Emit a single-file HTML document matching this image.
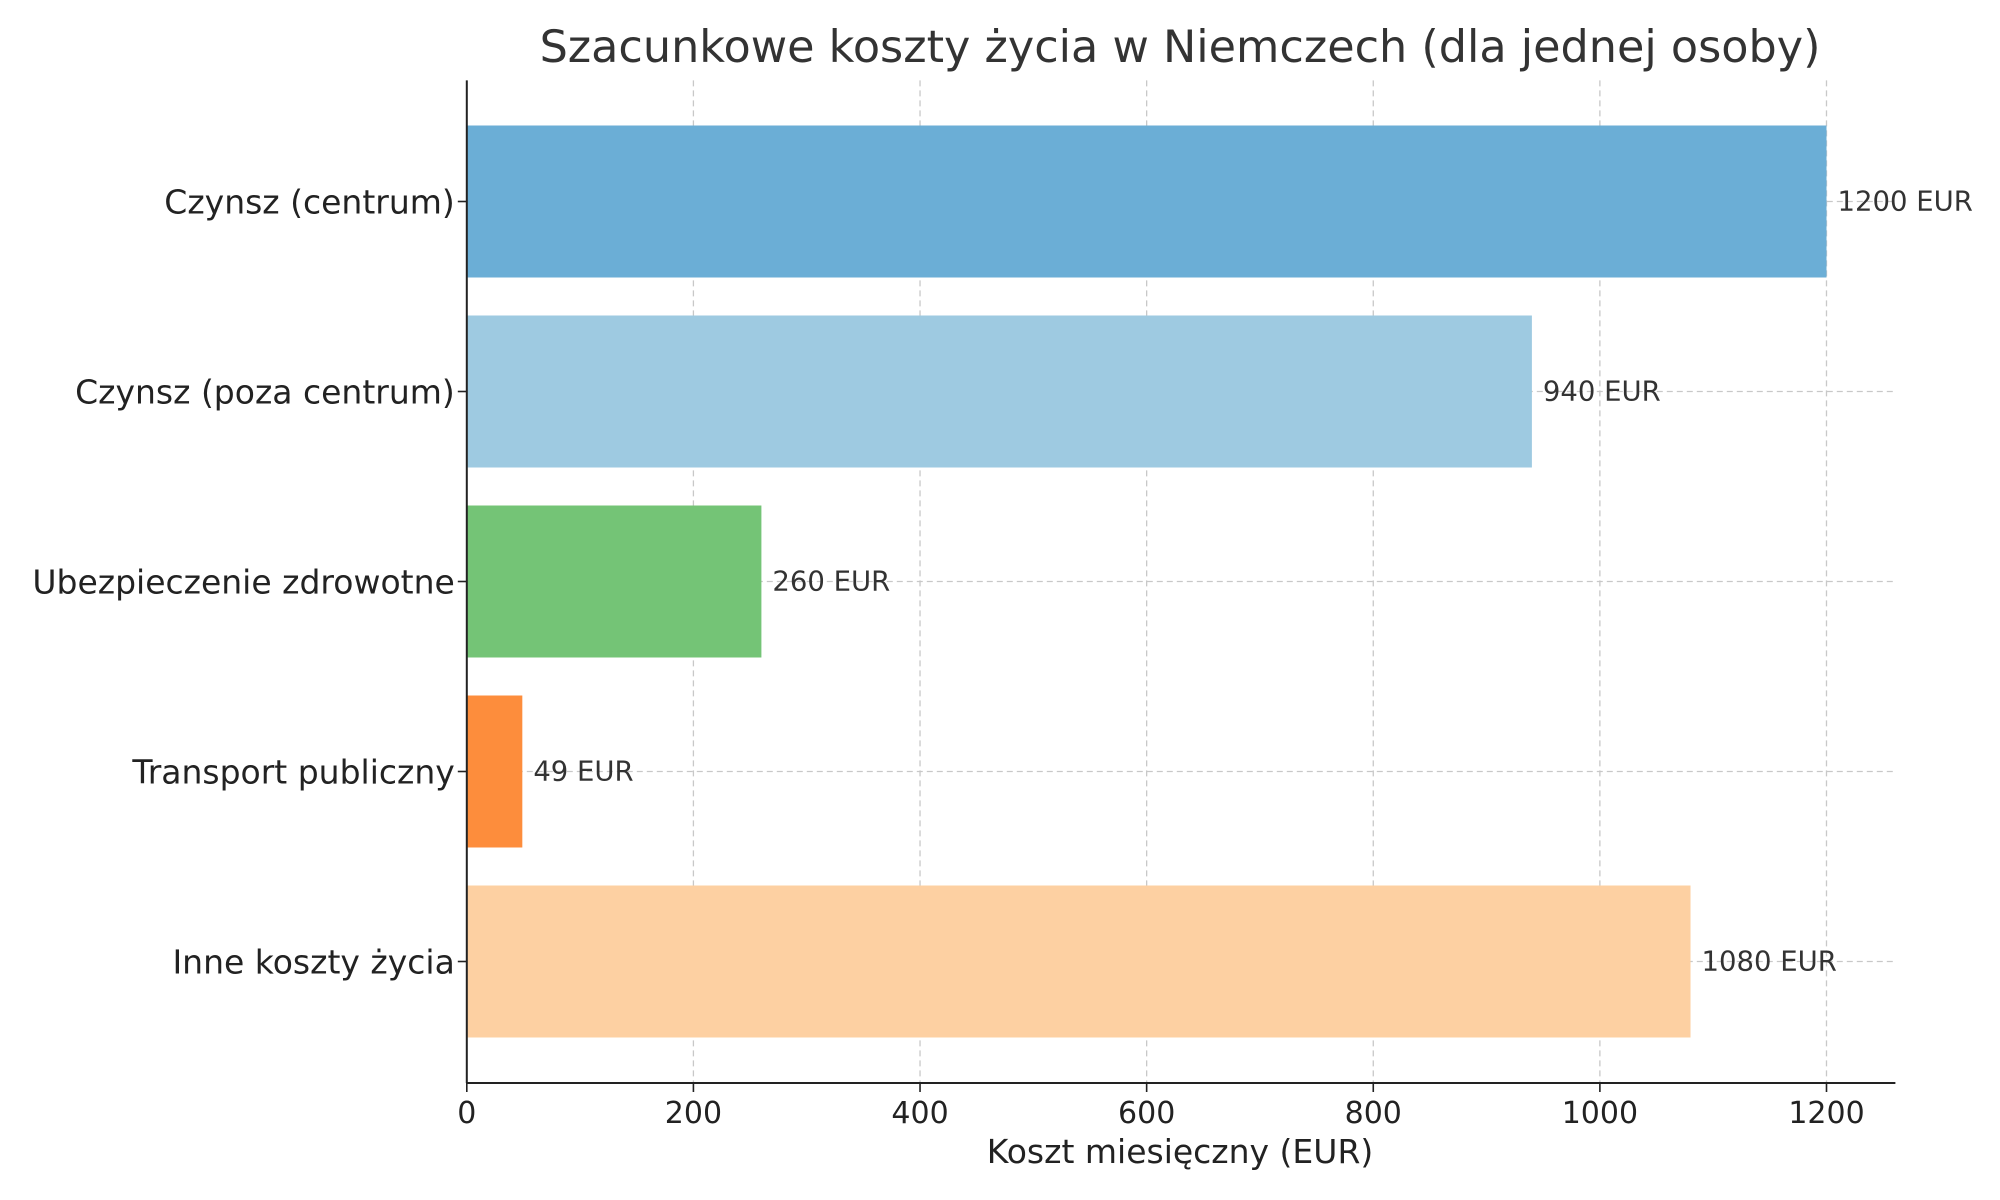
<!DOCTYPE html>
<html><head><meta charset="utf-8"><style>
html,body{margin:0;padding:0;background:#fff;}
svg{display:block;font-family:"DejaVu Sans","Liberation Sans",sans-serif;}
</style></head><body>
<svg id="chart" width="2000" height="1200" viewBox="0 0 2000 1200">
<text x="1180" y="62" text-anchor="middle" font-size="44.5" fill="#333">Szacunkowe koszty życia w Niemczech (dla jednej osoby)</text>
<g id="grid"></g><g id="bars"></g><g id="axes"></g>
<text x="1180" y="1163" text-anchor="middle" font-size="33" fill="#222">Koszt miesięczny (EUR)</text>
</svg>
<script>
const categories = ["Czynsz (centrum)","Czynsz (poza centrum)","Ubezpieczenie zdrowotne","Transport publiczny","Inne koszty życia"];
const values = [1200, 940, 260, 49, 1080];
const valueLabels = ["1200 EUR","940 EUR","260 EUR","49 EUR","1080 EUR"];
const xTicks = [0,200,400,600,800,1000,1200];
const colors = ["#6baed6","#9ecae1","#74c476","#fd8d3c","#fdd0a2"];

const L=466.8, R=1895.4, T=80.4, B=1083;
const x = v => L + v*(1826.5-L)/1200;
const y = i => 201.5 + 190*i;
const barH = 152;
const NS="http://www.w3.org/2000/svg";
function mk(tag, parent, attrs){const e=document.createElementNS(NS,tag);for(const k in attrs)e.setAttribute(k,attrs[k]);parent.appendChild(e);return e;}
const grid=document.getElementById('grid'), bars=document.getElementById('bars'), axes=document.getElementById('axes');
xTicks.forEach(t=>{
  const g=mk('line',grid,{x1:x(t),x2:x(t),y1:T,y2:B,stroke:'#c8c8c8','stroke-width':1.3,'stroke-dasharray':'6,4'});
  
  
  mk('line',axes,{x1:x(t),x2:x(t),y1:B,y2:B+9,stroke:'#222','stroke-width':1.6});
  const tl=mk('text',axes,{x:x(t),y:B+40,'text-anchor':'middle','font-size':30,fill:'#222'});
  tl.textContent=t;
  
  
});
categories.forEach((c,i)=>{
  const g=mk('line',grid,{x1:L,x2:R,y1:y(i),y2:y(i),stroke:'#c8c8c8','stroke-width':1.3,'stroke-dasharray':'6,4'});
  
  
  const b=mk('rect',bars,{x:L,y:y(i)-barH/2,width:x(values[i])-L,height:barH,fill:colors[i]});
  
  
  const vl=mk('text',bars,{x:x(values[i])+11,y:y(i)+9,'font-size':27.5,fill:'#333'});
  vl.textContent=valueLabels[i];
  
  
  mk('line',axes,{x1:L-9,x2:L,y1:y(i),y2:y(i),stroke:'#222','stroke-width':1.6});
  const cl=mk('text',axes,{x:L-12,y:y(i)+12,'text-anchor':'end','font-size':33,fill:'#222'});
  cl.textContent=c;
  
  
});
const la=mk('line',axes,{x1:L,x2:L,y1:T,y2:B,stroke:'#222','stroke-width':2});


const ba=mk('line',axes,{x1:L,x2:R,y1:B,y2:B,stroke:'#222','stroke-width':2});


</script>
</body></html>
